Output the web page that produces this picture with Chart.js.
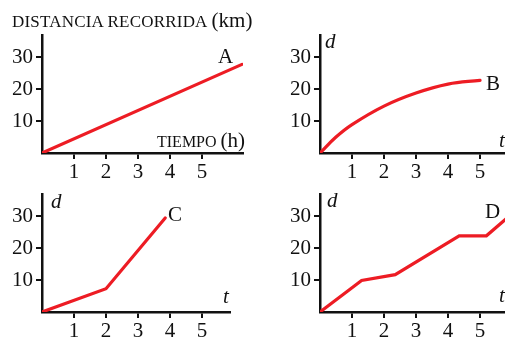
<!DOCTYPE html>
<html>
<head>
<meta charset="utf-8">
<script src="https://cdn.jsdelivr.net/npm/chart.js@4/dist/chart.umd.min.js"></script>
<style>
  body { margin: 0; background: #fff; }
  #page { position: relative; width: 505px; height: 340px; overflow: hidden; background: #fff; }
  canvas { position: absolute; }
  .lbl { position: absolute; font-family: "Liberation Serif", serif; color: #111; line-height: 0; white-space: nowrap; }
  .it { font-style: italic; }
</style>
</head>
<body>
<div id="page">
  <canvas id="chA" width="260" height="185" style="left:0px;top:0px"></canvas>
  <canvas id="chB" width="260" height="185" style="left:278px;top:0px"></canvas>
  <canvas id="chC" width="260" height="185" style="left:0px;top:159px"></canvas>
  <canvas id="chD" width="260" height="185" style="left:278px;top:159px"></canvas>

  <div class="lbl" style="left:12px;top:20px"><span style="font-size:17px;letter-spacing:0.2px">DISTANCIA RECORRIDA</span> <span style="font-size:21px">(km)</span></div>
  <div class="lbl" style="left:157px;top:140px"><span style="font-size:16px">TIEMPO</span> <span style="font-size:21px">(h)</span></div>
  <div class="lbl" style="left:218px;top:56px;font-size:21px">A</div>
  <div class="lbl" style="left:486px;top:83px;font-size:21px">B</div>
  <div class="lbl" style="left:168px;top:214px;font-size:21px">C</div>
  <div class="lbl" style="left:485px;top:211px;font-size:21px">D</div>
  <div class="lbl it" style="left:325px;top:41px;font-size:21px">d</div>
  <div class="lbl it" style="left:51px;top:201px;font-size:21px">d</div>
  <div class="lbl it" style="left:327px;top:200px;font-size:21px">d</div>
  <div class="lbl it" style="left:499px;top:140px;font-size:21px">t</div>
  <div class="lbl it" style="left:223px;top:296px;font-size:21px">t</div>
  <div class="lbl it" style="left:499px;top:295px;font-size:21px">t</div>
</div>
<script>
// tick labels
const tTicks = [1, 2, 3, 4, 5];
const dTicks = [10, 20, 30];

// series (t in hours, d in km)
const tA = [0, 6.25];
const dA = [0, 27.8];

const tB = [0, 0.5, 1, 2, 3, 4, 5];
const dB = [0, 5.0, 8.9, 14.7, 18.8, 21.6, 22.8];

const tC = [0, 2, 3.85];
const dC = [0, 7.3, 29.5];

const tD = [0, 1.3, 2.35, 4.35, 5.2, 6.0];
const dD = [0, 9.9, 11.7, 23.9, 23.9, 30.8];

const RED = '#ed1c24';
const INK = '#111';
const PX_PER_T = 32;

function makeChart(id, ts, ds, xMax, smooth) {
  const pts = ts.map((t, i) => ({ x: t, y: ds[i] }));
  const fnt = { family: '"Liberation Serif", serif', size: 21 };
  return new Chart(document.getElementById(id), {
    type: 'line',
    data: {
      datasets: [{
        data: pts,
        borderColor: RED,
        borderWidth: 3.2,
        pointRadius: 0,
        tension: smooth ? 0.4 : 0,
        borderCapStyle: 'round'
      }]
    },
    options: {
      responsive: false,
      animation: false,
      devicePixelRatio: 1,
      layout: { padding: { top: 35, right: 260 - 42 - xMax * PX_PER_T, left: 0, bottom: 0 } },
      plugins: { legend: { display: false }, tooltip: { enabled: false } },
      scales: {
        x: {
          type: 'linear', min: 0, max: xMax,
          afterBuildTicks: s => { s.ticks = tTicks.map(v => ({ value: v })); },
          afterFit: s => { s.height = 32; },
          grid: { drawOnChartArea: false, color: INK, lineWidth: 2, tickLength: 6 },
          border: { color: INK, width: 2.5 },
          ticks: { font: fnt, color: INK, padding: 1, maxRotation: 0, autoSkip: false }
        },
        y: {
          type: 'linear', min: 0, max: 37,
          afterBuildTicks: s => { s.ticks = dTicks.map(v => ({ value: v })); },
          afterFit: s => { s.width = 42; },
          grid: { drawOnChartArea: false, color: INK, lineWidth: 2, tickLength: 6 },
          border: { color: INK, width: 2.5 },
          ticks: { font: fnt, color: INK, padding: 3 }
        }
      }
    }
  });
}

makeChart('chA', tA, dA, 6.28, false);
makeChart('chB', tB, dB, 6.6, true);
makeChart('chC', tC, dC, 5.88, false);
makeChart('chD', tD, dD, 6.6, false);
</script>
</body>
</html>
